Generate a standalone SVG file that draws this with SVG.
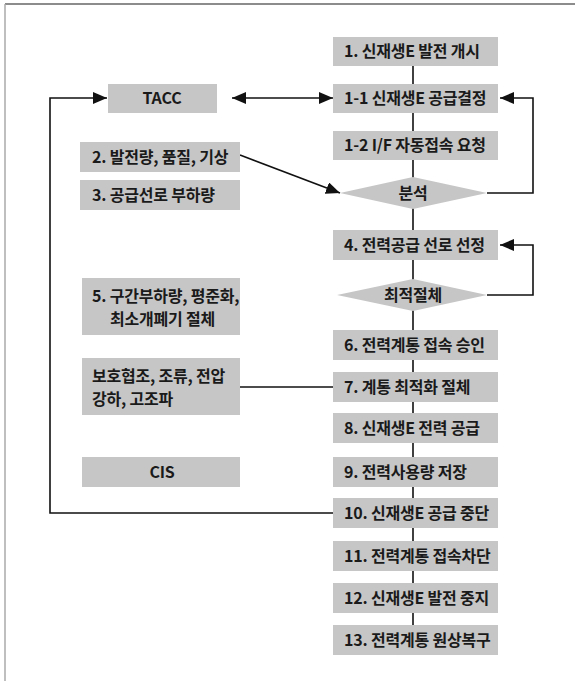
<svg xmlns="http://www.w3.org/2000/svg" width="575" height="681" viewBox="0 0 575 681">
<style>
.box{fill:#c6c6c6;}
.t{font-family:"Noto Sans CJK KR","Liberation Sans",sans-serif;font-size:16px;font-weight:bold;fill:#1a1a1a;letter-spacing:-0.2px;}
.c{text-anchor:middle;}
.ln{stroke:#111;stroke-width:1.6;fill:none;}
</style>
<defs>
<marker id="ah" viewBox="0 0 14 12" refX="14" refY="6" markerWidth="14" markerHeight="12" markerUnits="userSpaceOnUse" orient="auto-start-reverse">
<path d="M0,0 L14,6 L0,12 Z" fill="#111"/>
</marker>
</defs>
<rect width="575" height="681" fill="#fff"/>
<line x1="5" y1="4" x2="575" y2="4" stroke="#666" stroke-width="1.5"/>
<line x1="5" y1="4" x2="5" y2="681" stroke="#aaa" stroke-width="1.5"/>

<g id="connectors">
<line class="ln" x1="413" y1="64" x2="413" y2="626"/>
<polyline class="ln" points="487,193 533,193 533,98 500,98" marker-end="url(#ah)"/>
<polyline class="ln" points="487,295 533,295 533,245 500,245" marker-end="url(#ah)"/>
<line class="ln" x1="232" y1="98" x2="333" y2="98" marker-start="url(#ah)" marker-end="url(#ah)"/>
<polyline class="ln" points="333,513 50,513 50,98 107,98" marker-end="url(#ah)"/>
<line class="ln" x1="240" y1="155" x2="340" y2="193" marker-end="url(#ah)"/>
<line class="ln" x1="240" y1="387" x2="333" y2="387"/>
</g>

<g id="n1"><rect class="box" x="333" y="37" width="165" height="29"/><text class="t" x="344" y="57">1. 신재생E 발전 개시</text></g>
<g id="n1-1"><rect class="box" x="333" y="84" width="165" height="29"/><text class="t" x="344" y="104">1-1 신재생E 공급결정</text></g>
<g id="n1-2"><rect class="box" x="333" y="131" width="165" height="29"/><text class="t" x="344" y="151">1-2 I/F 자동접속 요청</text></g>
<g id="analysis"><polygon class="box" points="340,193 413,177 487,193 413,209"/><text class="t c" x="413" y="199">분석</text></g>
<g id="n4"><rect class="box" x="333" y="230" width="165" height="30"/><text class="t" x="344" y="251">4. 전력공급 선로 선정</text></g>
<g id="optimal"><polygon class="box" points="337,295 413,279 487,295 413,311"/><text class="t c" x="413" y="301">최적절체</text></g>
<g id="n6"><rect class="box" x="333" y="330" width="165" height="30"/><text class="t" x="344" y="351">6. 전력계통 접속 승인</text></g>
<g id="n7"><rect class="box" x="333" y="372" width="165" height="30"/><text class="t" x="344" y="393">7. 계통 최적화 절체</text></g>
<g id="n8"><rect class="box" x="333" y="413" width="165" height="30"/><text class="t" x="344" y="434">8. 신재생E 전력 공급</text></g>
<g id="n9"><rect class="box" x="333" y="457" width="165" height="30"/><text class="t" x="344" y="478">9. 전력사용량 저장</text></g>
<g id="n10"><rect class="box" x="333" y="498" width="165" height="30"/><text class="t" x="344" y="519">10. 신재생E 공급 중단</text></g>
<g id="n11"><rect class="box" x="333" y="541" width="165" height="30"/><text class="t" x="344" y="562">11. 전력계통 접속차단</text></g>
<g id="n12"><rect class="box" x="333" y="583" width="165" height="30"/><text class="t" x="344" y="604">12. 신재생E 발전 중지</text></g>
<g id="n13"><rect class="box" x="333" y="625" width="165" height="30"/><text class="t" x="344" y="646">13. 전력계통 원상복구</text></g>

<g id="tacc"><rect class="box" x="108" y="84" width="109" height="29"/><text class="t c" x="162" y="104">TACC</text></g>
<g id="n2"><rect class="box" x="80" y="142" width="160" height="30"/><text class="t" x="92" y="163">2. 발전량, 품질, 기상</text></g>
<g id="n3"><rect class="box" x="80" y="180" width="160" height="30"/><text class="t" x="92" y="201">3. 공급선로 부하량</text></g>
<g id="n5"><rect class="box" x="82" y="278" width="158" height="57"/><text class="t" x="92" y="302">5. 구간부하량, 평준화,</text><text class="t" x="110" y="325">최소개폐기 절체</text></g>
<g id="protect"><rect class="box" x="82" y="358" width="158" height="57"/><text class="t" x="92" y="382">보호협조, 조류, 전압</text><text class="t" x="92" y="405">강하, 고조파</text></g>
<g id="cis"><rect class="box" x="82" y="457" width="158" height="30"/><text class="t c" x="162" y="478">CIS</text></g>
</svg>
